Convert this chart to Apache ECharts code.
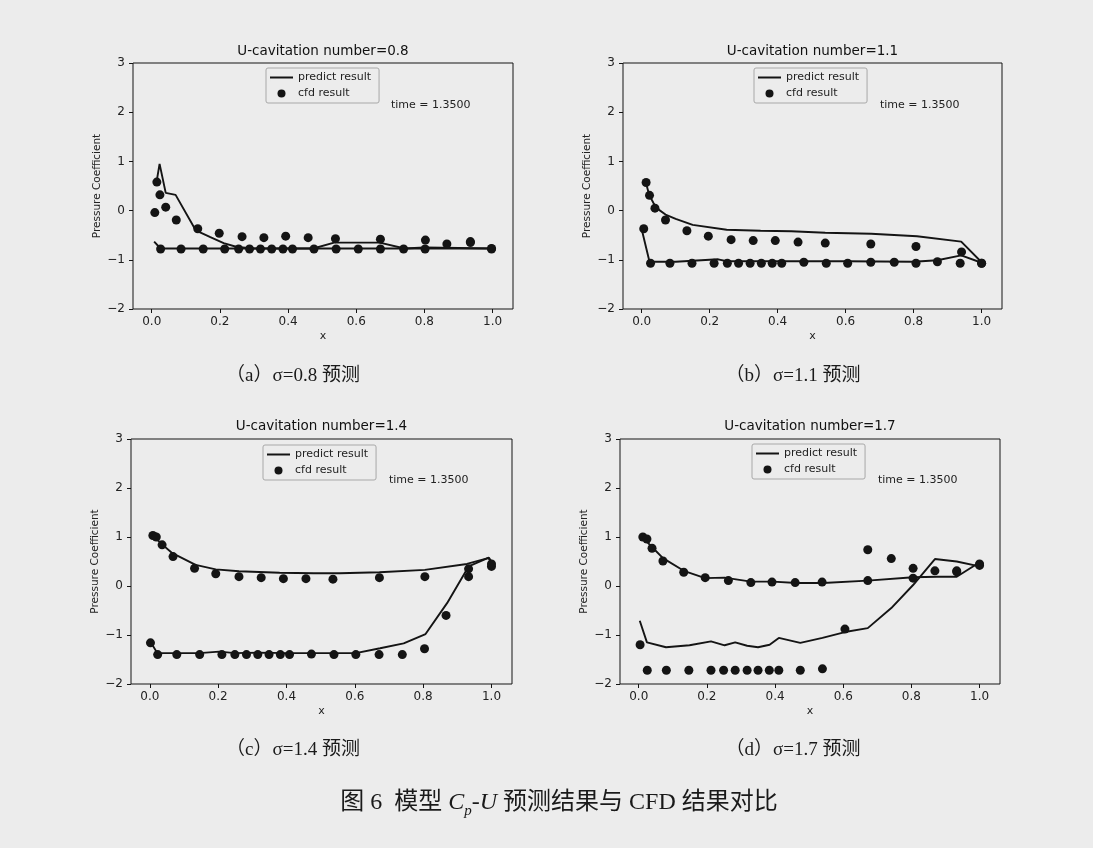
<!DOCTYPE html>
<html><head><meta charset="utf-8">
<script src="https://cdn.jsdelivr.net/npm/echarts@6/dist/echarts.min.js"></script>
<style>html,body{margin:0;padding:0;background:#ececec;} #c{width:1093px;height:848px;}</style>
</head><body><div id="c"></div>
<script>
// ---------- data ----------
const xTicks = [0, 0.2, 0.4, 0.6, 0.8, 1.0];
const yTicks = [-2, -1, 0, 1, 2, 3];
const panelTitles = ['U-cavitation number=0.8', 'U-cavitation number=1.1', 'U-cavitation number=1.4', 'U-cavitation number=1.7'];
const panelCaptions = ['（a）σ=0.8 预测', '（b）σ=1.1 预测', '（c）σ=1.4 预测', '（d）σ=1.7 预测'];
const timeLabel = 'time = 1.3500';
const seriesNames = ['predict result', 'cfd result'];

// panel (a) sigma = 0.8
const predUpperA = [[0.015,0.62],[0.023,0.95],[0.041,0.36],[0.07,0.32],[0.129,-0.40],[0.172,-0.54],[0.211,-0.66],[0.25,-0.74],[0.3,-0.77],[0.6,-0.77],[1.0,-0.77]];
const predLowerA = [[0.007,-0.63],[0.026,-0.77],[0.2,-0.77],[0.474,-0.77],[0.535,-0.65],[0.669,-0.65],[0.742,-0.77],[0.80,-0.75],[1.0,-0.77]];
const cfdUpperA = [[0.015,0.58],[0.024,0.32],[0.041,0.07],[0.072,-0.19],[0.135,-0.37],[0.198,-0.46],[0.265,-0.53],[0.329,-0.55],[0.393,-0.52],[0.459,-0.55],[0.539,-0.57],[0.671,-0.58],[0.803,-0.60],[0.935,-0.63],[0.997,-0.77]];
const cfdLowerA = [[0.009,-0.04],[0.026,-0.78],[0.086,-0.78],[0.151,-0.78],[0.214,-0.78],[0.255,-0.78],[0.287,-0.78],[0.319,-0.78],[0.352,-0.78],[0.385,-0.78],[0.413,-0.78],[0.476,-0.78],[0.541,-0.78],[0.606,-0.78],[0.671,-0.78],[0.739,-0.78],[0.802,-0.78],[0.866,-0.68],[0.935,-0.65],[0.997,-0.78]];

// panel (b) sigma = 1.1
const predUpperB = [[0.013,0.55],[0.022,0.32],[0.035,0.15],[0.05,0.02],[0.07,-0.08],[0.1,-0.17],[0.15,-0.29],[0.25,-0.39],[0.35,-0.41],[0.44,-0.42],[0.54,-0.45],[0.675,-0.47],[0.81,-0.52],[0.94,-0.63],[1.0,-1.05]];
const predLowerB = [[0.0,-0.38],[0.023,-1.04],[0.1,-1.04],[0.2,-1.0],[0.225,-0.99],[0.25,-1.03],[0.4,-1.03],[0.6,-1.03],[0.8,-1.04],[0.87,-1.01],[0.94,-0.91],[1.0,-1.06]];
const cfdUpperB = [[0.013,0.57],[0.023,0.31],[0.039,0.05],[0.070,-0.19],[0.133,-0.41],[0.196,-0.52],[0.263,-0.59],[0.328,-0.61],[0.393,-0.61],[0.460,-0.64],[0.540,-0.66],[0.674,-0.68],[0.807,-0.73],[0.941,-0.84],[1.0,-1.07]];
const cfdLowerB = [[0.006,-0.37],[0.026,-1.07],[0.083,-1.07],[0.148,-1.07],[0.213,-1.07],[0.252,-1.07],[0.285,-1.07],[0.319,-1.07],[0.352,-1.07],[0.384,-1.07],[0.412,-1.07],[0.477,-1.05],[0.543,-1.07],[0.606,-1.07],[0.674,-1.05],[0.743,-1.05],[0.807,-1.07],[0.870,-1.04],[0.937,-1.07],[1.0,-1.07]];

// panel (c) sigma = 1.4
const predUpperC = [[0.007,1.04],[0.036,0.85],[0.066,0.67],[0.134,0.43],[0.193,0.34],[0.261,0.30],[0.38,0.27],[0.48,0.26],[0.556,0.26],[0.672,0.28],[0.805,0.33],[0.928,0.45],[0.99,0.57],[1.0,0.5]];
const predLowerC = [[0.002,-1.14],[0.022,-1.37],[0.145,-1.37],[0.203,-1.34],[0.25,-1.37],[0.316,-1.36],[0.4,-1.37],[0.603,-1.37],[0.674,-1.27],[0.743,-1.17],[0.807,-0.98],[0.87,-0.35],[0.933,0.40],[0.992,0.58],[1.0,0.5]];
const cfdUpperC = [[0.009,1.03],[0.019,1.0],[0.036,0.84],[0.068,0.60],[0.131,0.36],[0.193,0.25],[0.261,0.19],[0.326,0.17],[0.391,0.15],[0.457,0.15],[0.536,0.14],[0.672,0.17],[0.805,0.19],[0.933,0.19],[1.0,0.40]];
const cfdLowerC = [[0.002,-1.16],[0.023,-1.40],[0.079,-1.40],[0.146,-1.40],[0.211,-1.40],[0.249,-1.40],[0.283,-1.40],[0.316,-1.40],[0.349,-1.40],[0.382,-1.40],[0.409,-1.40],[0.473,-1.39],[0.539,-1.40],[0.603,-1.40],[0.671,-1.40],[0.739,-1.40],[0.804,-1.28],[0.867,-0.60],[0.933,0.35],[1.0,0.45]];

// panel (d) sigma = 1.7
const predUpperD = [[0.007,1.03],[0.041,0.78],[0.071,0.57],[0.132,0.31],[0.195,0.16],[0.252,0.17],[0.329,0.09],[0.394,0.09],[0.463,0.06],[0.541,0.06],[0.672,0.11],[0.805,0.18],[0.875,0.19],[0.933,0.19],[0.997,0.47]];
const predLowerD = [[0.003,-0.71],[0.024,-1.15],[0.08,-1.25],[0.149,-1.21],[0.212,-1.13],[0.252,-1.21],[0.283,-1.15],[0.318,-1.22],[0.350,-1.25],[0.384,-1.20],[0.411,-1.06],[0.474,-1.16],[0.539,-1.06],[0.605,-0.94],[0.672,-0.86],[0.741,-0.45],[0.805,0.02],[0.869,0.55],[0.933,0.50],[1.0,0.40]];
const cfdUpperD = [[0.012,1.0],[0.024,0.96],[0.039,0.77],[0.071,0.51],[0.132,0.28],[0.195,0.17],[0.263,0.11],[0.329,0.07],[0.391,0.08],[0.459,0.07],[0.538,0.08],[0.672,0.11],[0.805,0.16],[0.933,0.31],[1.0,0.45]];
const cfdLowerD = [[0.004,-1.20],[0.025,-1.72],[0.081,-1.72],[0.147,-1.72],[0.212,-1.72],[0.249,-1.72],[0.283,-1.72],[0.318,-1.72],[0.350,-1.72],[0.383,-1.72],[0.411,-1.72],[0.474,-1.72],[0.539,-1.69],[0.605,-0.88],[0.672,0.74],[0.741,0.56],[0.805,0.36],[0.869,0.31],[0.933,0.29],[1.0,0.42]];

// ---------- layout ----------
const panels = [
  {pu: predUpperA, pl: predLowerA, cu: cfdUpperA, cl: cfdLowerA},
  {pu: predUpperB, pl: predLowerB, cu: cfdUpperB, cl: cfdLowerB},
  {pu: predUpperC, pl: predLowerC, cu: cfdUpperC, cl: cfdLowerC},
  {pu: predUpperD, pl: predLowerD, cu: cfdUpperD, cl: cfdLowerD}
];
const gridPos = [
  {left:133, top:63, width:380, height:246},
  {left:623, top:63, width:379, height:246},
  {left:131, top:439, width:381, height:245},
  {left:620, top:439, width:380, height:245}
];
const legendPos = [[266,68],[754,68],[263,445],[752,444]];
const timePos = [[391,107],[880,107],[389,482],[878,482]];
const captionPos = [[293,376],[793,376],[293,750],[793,750]];

const SANS = '"DejaVu Sans", sans-serif';
const SERIF = '"Liberation Serif", "Noto Sans CJK SC", serif';
const INK = '#141414';
const minus = v => (v < 0 ? '\u2212' + Math.abs(v) : String(v));
const LINE_ICON = 'path://M0,0h0.01v8h-0.01z M0,3.1h23v1.8h-23z';

const grid = [], xAxis = [], yAxis = [], series = [], title = [], legend = [], graphic = [];
panels.forEach((p, i) => {
  const g = gridPos[i];
  grid.push(Object.assign({show: true, borderColor: INK, borderWidth: 1, backgroundColor: 'transparent', containLabel: false}, g));
  xAxis.push({
    type: 'value', gridIndex: i, min: -0.055, max: 1.06, position: 'bottom',
    axisLine: {show: false, onZero: false},
    axisTick: {show: true, inside: false, length: 4, customValues: xTicks, lineStyle: {color: INK, width: 1}},
    axisLabel: {customValues: xTicks, formatter: v => v.toFixed(1), color: '#222', fontSize: 12, fontFamily: SANS, margin: 7},
    splitLine: {show: false},
    name: 'x', nameLocation: 'middle', nameGap: 22,
    nameTextStyle: {fontSize: 11, fontFamily: SANS, color: '#222'}
  });
  yAxis.push({
    type: 'value', gridIndex: i, min: -2, max: 3, interval: 1, position: 'left',
    axisLine: {show: false, onZero: false},
    axisTick: {show: true, inside: false, length: 4, lineStyle: {color: INK, width: 1}},
    axisLabel: {formatter: minus, color: '#222', fontSize: 12, fontFamily: SANS, margin: 8},
    splitLine: {show: false},
    name: 'Pressure Coefficient', nameLocation: 'middle', nameGap: 30,
    nameTextStyle: {fontSize: 10.5, fontFamily: SANS, color: '#222'}
  });
  const lineCommon = {type: 'line', name: seriesNames[0], xAxisIndex: i, yAxisIndex: i, symbol: 'none', smooth: false,
    lineStyle: {color: INK, width: 1.9}, itemStyle: {color: INK}, silent: true, animation: false, z: 3};
  series.push(Object.assign({data: p.pl}, lineCommon));
  series.push(Object.assign({data: p.pu}, lineCommon));
  series.push({type: 'scatter', name: seriesNames[1], xAxisIndex: i, yAxisIndex: i, symbol: 'circle', symbolSize: 9,
    itemStyle: {color: INK, opacity: 1}, data: p.cu.concat(p.cl), silent: true, animation: false, z: 4});
  title.push({text: panelTitles[i], left: g.left + g.width / 2, top: i < 2 ? 44 : 419, textAlign: 'center', padding: 0,
    textStyle: {fontSize: 13.5, fontWeight: 'normal', fontFamily: SANS, color: '#111'}});
  legend.push({
    data: [{name: seriesNames[0], icon: LINE_ICON, itemStyle: {color: INK, opacity: 1}},
           {name: seriesNames[1], icon: 'circle', itemStyle: {color: INK, opacity: 1}}],
    orient: 'vertical', left: legendPos[i][0], top: legendPos[i][1],
    itemWidth: 23, itemHeight: 8, itemGap: 5, padding: [4, 8, 4, 4],
    borderColor: '#a8a8a8', borderWidth: 1, borderRadius: 2, backgroundColor: 'transparent',
    textStyle: {fontSize: 11, fontFamily: SANS, color: '#222'}, selectedMode: false});
  graphic.push({type: 'text', left: timePos[i][0], top: timePos[i][1] - 7,
    style: {text: timeLabel, fontSize: 11, fontFamily: SANS, fill: '#222'}});
  graphic.push({type: 'text', x: captionPos[i][0], y: captionPos[i][1],
    style: {text: panelCaptions[i], fontSize: 19, fontFamily: SERIF, fill: '#1a1a1a', align: 'center', verticalAlign: 'middle'}});
});

graphic.push({type: 'text', x: 559, y: 803, style: {
  text: '{z|图 6  模型 }{i|C}{s|p}{z|-}{i|U}{z| 预测结果与 CFD 结果对比}',
  align: 'center', verticalAlign: 'middle', fill: '#1a1a1a',
  rich: {
    z: {fontSize: 24, fontFamily: SERIF, lineHeight: 32, verticalAlign: 'middle', fill: '#1a1a1a'},
    i: {fontSize: 24, fontFamily: SERIF, fontStyle: 'italic', lineHeight: 32, verticalAlign: 'middle', fill: '#1a1a1a'},
    s: {fontSize: 15, fontFamily: SERIF, fontStyle: 'italic', lineHeight: 15, verticalAlign: 'bottom', fill: '#1a1a1a'}
  }
}});

const chart = echarts.init(document.getElementById('c'), null, {renderer: 'canvas'});
chart.setOption({backgroundColor: '#ececec', animation: false, grid, xAxis, yAxis, series, title, legend, graphic});
</script></body></html>
